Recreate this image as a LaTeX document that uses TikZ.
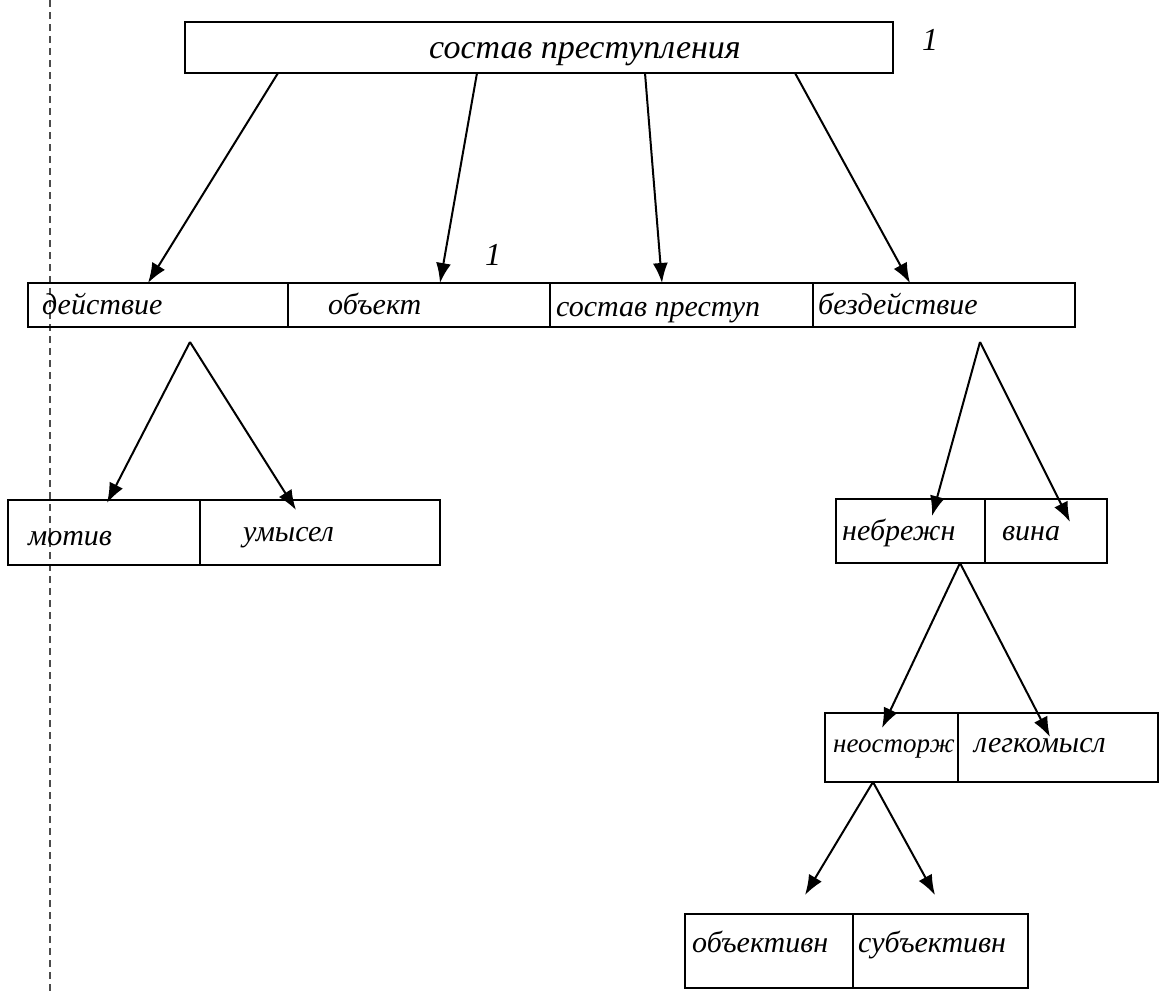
\documentclass[tikz,border=0pt]{standalone}
\usepackage{fontspec}
\setmainfont{Liberation Serif}
\usetikzlibrary{arrows.meta}
\begin{document}
\begin{tikzpicture}[x=1pt,y=-1pt,
  box/.style={draw=black, line width=2pt, rectangle, inner sep=0pt, outer sep=0pt, anchor=north west},
  lbl/.style={anchor=base west, inner sep=0pt, font=\fontsize{30}{32}\selectfont\itshape},
  note/.style={inner sep=0pt, font=\fontsize{32}{34}\selectfont\itshape},
  arr/.style={line width=2pt, -{Latex[length=20pt,width=15pt]}},
  margin/.style={draw=black!70, line width=1.2pt, dash pattern=on 7pt off 5pt}]
\useasboundingbox (0,0) rectangle (1171,993);
\fill[white] (0,0) rectangle (1171,993);
% scan margin line
\coordinate (m1) at (50,0);
\coordinate (m2) at (50,993);
\draw[margin] (m1) -- (m2);
% top box
\node[box, minimum width=708pt, minimum height=51pt] (top) at (185,22) {};
\node[anchor=base, inner sep=0pt, font=\fontsize{34}{36}\selectfont\itshape] (toptext) at (585,58) {состав преступления};
\node[note] (one1) at (930,40) {1};
% row 2
\node[box, minimum width=260pt, minimum height=44pt] (b1) at (28,283) {};
\node[box, minimum width=262pt, minimum height=44pt] (b2) at (288,283) {};
\node[box, minimum width=263pt, minimum height=44pt] (b3) at (550,283) {};
\node[box, minimum width=262pt, minimum height=44pt] (b4) at (813,283) {};
\node[lbl] (t1) at (42,314) {действие};
\node[lbl] (t2) at (328,314) {объект};
\node[lbl] (t3) at (556,316) {состав преступ};
\node[lbl] (t4) at (818,314) {бездействие};
\node[note] (one2) at (493,255) {1};
% arrows from top
\coordinate (s1) at (278,73);
\coordinate (s2) at (477,73);
\coordinate (s3) at (645,73);
\coordinate (s4) at (795,73);
\coordinate (e1) at (148,283);
\coordinate (e2) at (440,283);
\coordinate (e3) at (662,283);
\coordinate (e4) at (910,283);
\draw[arr] (s1) -- (e1);
\draw[arr] (s2) -- (e2);
\draw[arr] (s3) -- (e3);
\draw[arr] (s4) -- (e4);
% left subtree
\coordinate (apL) at (190,342);
\coordinate (eL1) at (107,503);
\coordinate (eL2) at (296,510);
\draw[arr] (apL) -- (eL1);
\draw[arr] (apL) -- (eL2);
\node[box, minimum width=192pt, minimum height=65pt] (c1) at (8,500) {};
\node[box, minimum width=240pt, minimum height=65pt] (c2) at (200,500) {};
\node[lbl] (u1) at (28,545) {мотив};
\node[lbl] (u2) at (243,541) {умысел};
% right subtree
\coordinate (apR) at (980,342);
\coordinate (eR1) at (932,516);
\coordinate (eR2) at (1070,522);
\draw[arr] (apR) -- (eR1);
\draw[arr] (apR) -- (eR2);
\node[box, minimum width=149pt, minimum height=64pt] (d1) at (836,499) {};
\node[box, minimum width=122pt, minimum height=64pt] (d2) at (985,499) {};
\node[lbl] (v1) at (842,540) {небрежн};
\node[lbl] (v2) at (1002,540) {вина};
% next level
\coordinate (ap2) at (960,563);
\coordinate (f1) at (882,728);
\coordinate (f2) at (1050,737);
\draw[arr] (ap2) -- (f1);
\draw[arr] (ap2) -- (f2);
\node[box, minimum width=133pt, minimum height=69pt] (g1) at (825,713) {};
\node[box, minimum width=200pt, minimum height=69pt] (g2) at (958,713) {};
\node[lbl, font=\fontsize{27}{29}\selectfont\itshape] (w1) at (833,752) {неосторж};
\node[lbl] (w2) at (974,752) {легкомысл};
% bottom level
\coordinate (ap3) at (873,782);
\coordinate (h1) at (805,895);
\coordinate (h2) at (935,895);
\draw[arr] (ap3) -- (h1);
\draw[arr] (ap3) -- (h2);
\node[box, minimum width=168pt, minimum height=74pt] (k1) at (685,914) {};
\node[box, minimum width=175pt, minimum height=74pt] (k2) at (853,914) {};
\node[lbl] (x1) at (692,952) {объективн};
\node[lbl] (x2) at (858,952) {субъективн};
\end{tikzpicture}
\end{document}
